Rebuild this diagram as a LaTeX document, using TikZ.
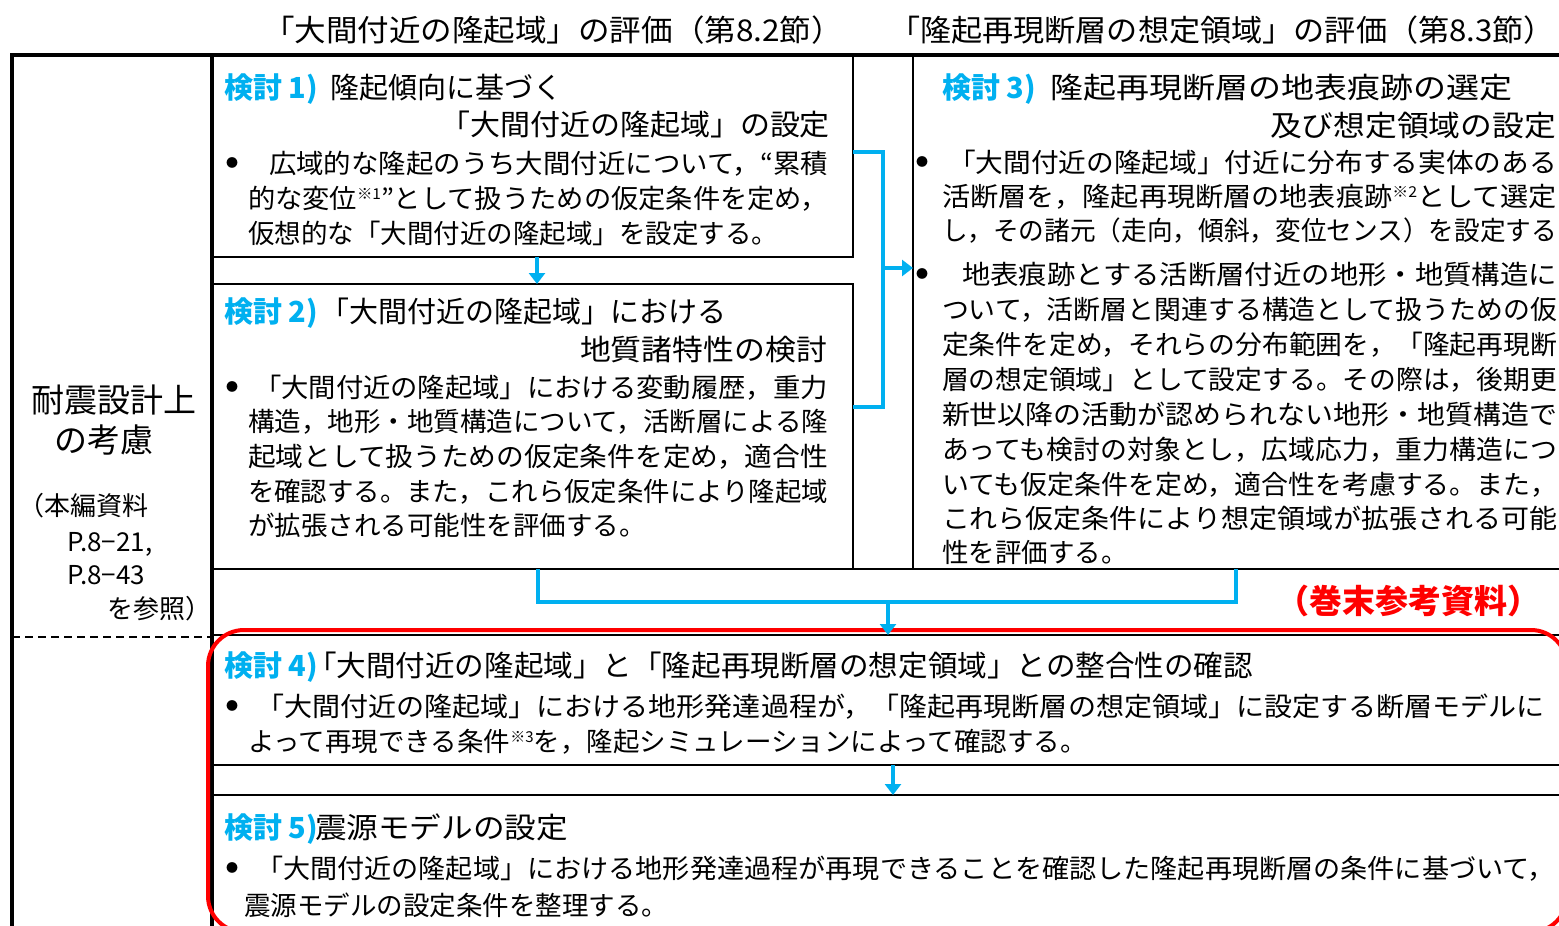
\documentclass[tikz,border=0pt]{standalone}
\usepackage{fontspec}
\setmainfont{Noto Sans CJK JP}
\usepackage{graphicx}
\usetikzlibrary{arrows.meta}
\definecolor{kblue}{RGB}{0,176,240}
\definecolor{kred}{RGB}{255,0,0}
\newcommand\bd{\fontsize{26.5pt}{35pt}\selectfont}
\newcommand\hdf{\fontsize{29pt}{35pt}\selectfont}
\newcommand\fw[2]{\resizebox{#1pt}{\height}{#2}}
\newcommand\snote[1]{\raisebox{9pt}{\fontsize{15pt}{15pt}\selectfont #1}}
\newcommand\kt[1]{{\color{kblue}\bfseries 検討 #1)}}
\begin{document}
\begin{tikzpicture}[x=1pt,y=-1pt,
  frame/.style={draw=black, line width=2.6pt, inner sep=0pt, outer sep=0pt, anchor=north west},
  conn/.style={draw=kblue, line width=4.5pt},
  thinconn/.style={draw=kblue, line width=3.2pt},
  arr/.style={-{Triangle[length=11pt,width=16pt]}},
  txt/.style={inner sep=0pt, outer sep=0pt, anchor=base west, font=\bd},
  txte/.style={inner sep=0pt, outer sep=0pt, anchor=base east, font=\bd},
  hd/.style={txt, font=\hdf},
  bul/.style={inner sep=0pt, outer sep=0pt, anchor=base, font=\fontsize{12pt}{12pt}\selectfont},
]
\useasboundingbox (0,0) rectangle (1559,926);
\clip (0,0) rectangle (1559,926);
\fill[white] (0,0) rectangle (1559,926);

% frames
\node[frame, line width=3.2pt, minimum width=200pt, minimum height=900pt] (lc) at (12,55) {};
\node[frame, minimum width=641pt, minimum height=202pt] (b1) at (212,55) {};
\node[frame, minimum width=641pt, minimum height=285pt] (b2) at (212,284) {};
\node[frame, minimum width=700pt, minimum height=514pt] (b3) at (913,55) {};
\node[frame, minimum width=1400pt, minimum height=130pt] (b4) at (212,635) {};
\node[frame, minimum width=1400pt, minimum height=200pt] (b5) at (212,795) {};
\draw[line width=3.2pt] (lc.north west) -- (b3.north east);
\draw[line width=2.6pt] (b2.south west) -- (b3.south east);
\coordinate (dl) at (0,637);
\draw[line width=2pt, dash pattern=on 8pt off 5pt] (lc.west |- dl) -- (lc.east |- dl);

% red rounded frame
\node[draw=kred, line width=4pt, rounded corners=36pt, inner sep=0pt, outer sep=0pt,
      minimum width=1359pt, minimum height=302pt, anchor=north west] (redbox) at (208,630) {};

% connectors
\coordinate (j1) at (883,152);
\coordinate (j2) at (883,407);
\coordinate (j3) at (883,268);
\draw[conn] (b1.east |- j1) -- (j1) -- (j2) -- (b2.east |- j2);
\draw[conn, arr] (j3) -- (b3.west |- j3);
\coordinate (cx1) at (537,0);
\draw[thinconn, arr] (b1.south -| cx1) -- (b2.north -| cx1);
\coordinate (k1) at (538,602);
\coordinate (k2) at (1236,602);
\coordinate (k3) at (888,602);
\draw[conn] (b2.south -| k1) -- (k1) -- (k2) -- (b3.south -| k2);
\draw[conn, arr] (k3) -- (b4.north -| k3);
\coordinate (cx2) at (893,0);
\draw[thinconn, arr] (b4.south -| cx2) -- (b5.north -| cx2);

% headers
\node[txt, font=\fontsize{30pt}{35pt}\selectfont] (hL) at (263,41) {\fw{580}{「大間付近の隆起域」の評価（第8.2節）}};
\node[txt, font=\fontsize{30pt}{35pt}\selectfont] (hR) at (889,41) {\fw{666}{「隆起再現断層の想定領域」の評価（第8.3節）}};

% left column
\node[inner sep=0pt, anchor=base, font=\fontsize{33pt}{40pt}\selectfont] (l1) at (114,412) {耐震設計上};
\node[inner sep=0pt, anchor=base, font=\fontsize{33pt}{40pt}\selectfont] (l2) at (104,452) {の考慮};
\node[txt, font=\fontsize{26pt}{35pt}\selectfont] (l3) at (18,515) {（本編資料};
\node[txt, font=\fontsize{26pt}{35pt}\selectfont] (l4) at (67,551) {P.8−21,};
\node[txt, font=\fontsize{26pt}{35pt}\selectfont] (l5) at (67,584) {P.8−43};
\node[txte, font=\fontsize{26pt}{35pt}\selectfont] (l6) at (211,618) {を参照）};

% red note
\node[txt, font=\fontsize{33pt}{40pt}\selectfont\bfseries, text=kred] (rn) at (1276,613) {（巻末参考資料）};

% box 1
\node[hd] (t1k) at (224,98) {\kt{1}};
\node[hd] (t1h) at (330,98) {隆起傾向に基づく};
\node[hd] (t1g) at (440,135) {\fw{390}{「大間付近の隆起域」の設定}};
\node[bul] (t1b) at (232,167.5) {●};
\node[txt] (t1a) at (269,173) {\fw{559}{広域的な隆起のうち大間付近について，“累積}};
\node[txt] (t1c) at (248,208) {\fw{580}{的な変位\snote{※1}”として扱うための仮定条件を定め，}};
\node[txt] (t1d) at (248,243) {仮想的な「大間付近の隆起域」を設定する。};

% box 2
\node[hd] (t2k) at (224,322) {\kt{2}};
\node[hd] (t2h) at (320,322) {「大間付近の隆起域」における};
\node[hd] (t2g) at (580,360) {\fw{247}{地質諸特性の検討}};
\node[bul] (t2b) at (232,391.5) {●};
\node[txt] (t2a) at (254,397) {\fw{574}{「大間付近の隆起域」における変動履歴，重力}};
\node[txt] (t2c) at (248,431) {\fw{580}{構造，地形・地質構造について，活断層による隆}};
\node[txt] (t2d) at (248,466) {\fw{580}{起域として扱うための仮定条件を定め，適合性}};
\node[txt] (t2e) at (248,501) {\fw{580}{を確認する。また，これら仮定条件により隆起域}};
\node[txt] (t2f) at (248,535) {が拡張される可能性を評価する。};

% box 3
\node[hd] (t3k) at (942,98) {\kt{3}};
\node[hd] (t3h) at (1050,98) {\fw{462}{隆起再現断層の地表痕跡の選定}};
\node[hd] (t3g) at (1270,136) {\fw{286}{及び想定領域の設定}};
\node[bul] (t3b) at (922,166.5) {●};
\node[txt] (t3a) at (948,172) {\fw{609}{「大間付近の隆起域」付近に分布する実体のある}};
\node[txt] (t3c) at (942,206) {\fw{615}{活断層を，隆起再現断層の地表痕跡\snote{※2}として選定}};
\node[txt] (t3d) at (942,240) {\fw{615}{し，その諸元（走向，傾斜，変位センス）を設定する}};
\node[bul] (t3bb) at (922,278.5) {●};
\node[txt] (t3e) at (962,284) {\fw{595}{地表痕跡とする活断層付近の地形・地質構造に}};
\node[txt] (t3f) at (942,319) {\fw{615}{ついて，活断層と関連する構造として扱うための仮}};
\node[txt] (t3i) at (942,354) {\fw{615}{定条件を定め，それらの分布範囲を，「隆起再現断}};
\node[txt] (t3j) at (942,389) {\fw{615}{層の想定領域」として設定する。その際は，後期更}};
\node[txt] (t3l) at (942,424) {\fw{615}{新世以降の活動が認められない地形・地質構造で}};
\node[txt] (t3m) at (942,459) {\fw{615}{あっても検討の対象とし，広域応力，重力構造につ}};
\node[txt] (t3n) at (942,494) {\fw{615}{いても仮定条件を定め，適合性を考慮する。また，}};
\node[txt] (t3o) at (942,528) {\fw{615}{これら仮定条件により想定領域が拡張される可能}};
\node[txt] (t3p) at (942,562) {性を評価する。};

% box 4
\node[hd] (t4k) at (224,676) {\kt{4}};
\node[hd] (t4h) at (307,676) {\fw{946}{「大間付近の隆起域」と「隆起再現断層の想定領域」との整合性の確認}};
\node[bul] (t4b) at (232,710.5) {●};
\node[txt] (t4a) at (256,716) {\fw{1289}{「大間付近の隆起域」における地形発達過程が，「隆起再現断層の想定領域」に設定する断層モデルに}};
\node[txt] (t4c) at (248,751) {よって再現できる条件\snote{※3}を，隆起シミュレーションによって確認する。};

% box 5
\node[hd] (t5k) at (224,838) {\kt{5}};
\node[hd] (t5h) at (315,838) {\fw{253}{震源モデルの設定}};
\node[bul] (t5b) at (232,872.5) {●};
\node[txt] (t5a) at (256,878) {\fw{1299}{「大間付近の隆起域」における地形発達過程が再現できることを確認した隆起再現断層の条件に基づいて，}};
\node[txt] (t5c) at (244,915) {震源モデルの設定条件を整理する。};
\end{tikzpicture}
\end{document}
